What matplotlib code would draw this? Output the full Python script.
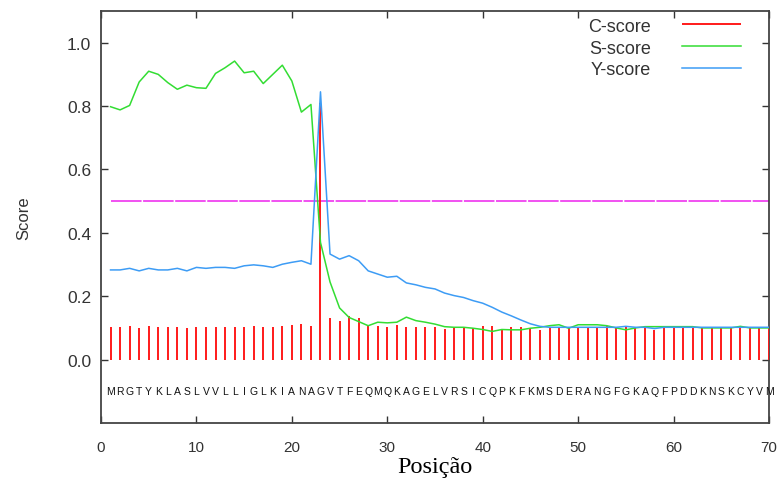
import matplotlib
matplotlib.use("Agg")
import matplotlib.pyplot as plt

plt.rcParams['font.family'] = ['Liberation Sans', 'DejaVu Sans']

positions = list(range(1, 71))
sequence = "MRGTYKLASLVVLLIGLKIANAGVTFEQMQKAGELVRSICQPKFKMSDERANGFGKAQFPDDKNSKCYVM"

c_score = [0.102, 0.102, 0.105, 0.099, 0.105, 0.102, 0.102, 0.102, 0.099, 0.102,
           0.102, 0.102, 0.102, 0.102, 0.102, 0.105, 0.102, 0.102, 0.105, 0.109,
           0.112, 0.105, 0.810, 0.131, 0.123, 0.137, 0.131, 0.105, 0.105, 0.102,
           0.109, 0.102, 0.102, 0.102, 0.102, 0.097, 0.099, 0.102, 0.099, 0.105,
           0.105, 0.097, 0.102, 0.102, 0.099, 0.095, 0.102, 0.099, 0.099, 0.102,
           0.102, 0.099, 0.105, 0.099, 0.107, 0.099, 0.102, 0.094, 0.102, 0.102,
           0.102, 0.102, 0.102, 0.102, 0.102, 0.102, 0.102, 0.102, 0.102, 0.102]

s_score = [0.798, 0.788, 0.802, 0.876, 0.910, 0.900, 0.874, 0.853, 0.866, 0.858,
           0.856, 0.903, 0.921, 0.942, 0.905, 0.910, 0.871, 0.900, 0.929, 0.879,
           0.781, 0.805, 0.370, 0.245, 0.163, 0.133, 0.120, 0.107, 0.118, 0.116,
           0.118, 0.134, 0.123, 0.118, 0.112, 0.104, 0.102, 0.102, 0.099, 0.095,
           0.089, 0.095, 0.094, 0.094, 0.099, 0.102, 0.107, 0.110, 0.099, 0.110,
           0.110, 0.110, 0.107, 0.100, 0.094, 0.100, 0.104, 0.104, 0.104, 0.104,
           0.104, 0.104, 0.100, 0.100, 0.100, 0.100, 0.105, 0.100, 0.100, 0.100]

y_score = [0.283, 0.283, 0.288, 0.280, 0.288, 0.283, 0.283, 0.288, 0.280, 0.291,
           0.288, 0.291, 0.291, 0.288, 0.296, 0.299, 0.296, 0.291, 0.301, 0.307,
           0.312, 0.301, 0.845, 0.333, 0.317, 0.328, 0.312, 0.280, 0.270, 0.260,
           0.263, 0.242, 0.236, 0.228, 0.223, 0.210, 0.202, 0.196, 0.186, 0.178,
           0.165, 0.150, 0.138, 0.125, 0.113, 0.105, 0.102, 0.102, 0.102, 0.102,
           0.102, 0.102, 0.102, 0.102, 0.105, 0.102, 0.102, 0.098, 0.102, 0.102,
           0.102, 0.102, 0.102, 0.102, 0.102, 0.102, 0.102, 0.102, 0.102, 0.102]

threshold = 0.5
x_ticks = [0, 10, 20, 30, 40, 50, 60, 70]
y_ticks = [0.0, 0.2, 0.4, 0.6, 0.8, 1.0]

fig = plt.figure(figsize=(7.78, 4.85), dpi=100)
ax = fig.add_axes([101/778, (485-424)/485, (769-101)/778, (424-12)/485])

ax.vlines(positions, 0, c_score, colors='#ff1a1a', linewidth=1.4, label='C-score', zorder=3)
ax.plot(positions, s_score, color='#33dd33', linewidth=1.1, label='S-score', zorder=4)
ax.plot(positions, y_score, color='#3d9cf5', linewidth=1.1, label='Y-score', zorder=5)
ax.hlines(threshold, positions[0], positions[-1], colors='#ee22ee', linewidth=1.1,
          linestyles=(0, (20, 1.0)), zorder=2)

for p, aa in zip(positions, sequence):
    ax.text(p, -0.1, aa, ha='center', va='center', fontsize=7.5, color='#111111')

ax.set_xlim(0, 70)
ax.set_ylim(-0.2, 1.1)
ax.set_xticks(x_ticks)
ax.set_yticks(y_ticks)
ax.set_yticklabels([f"{v:.1f}" for v in y_ticks])
ax.tick_params(direction='in', length=5, width=1, top=True, right=True,
               colors='#333333', labelcolor='#333333')
ax.tick_params(axis='x', labelsize=11, pad=12)
ax.tick_params(axis='y', labelsize=12.5, pad=7)
for s in ax.spines.values():
    s.set_color('#444444')
    s.set_linewidth(1.3)

ax.set_ylabel('Score', fontsize=12, color='#333333', labelpad=26)
ax.set_xlabel('Posição', fontsize=17.5, family=['Liberation Serif', 'DejaVu Serif'], labelpad=2)

leg = ax.legend(loc='upper right', bbox_to_anchor=(0.975, 1.01), frameon=False,
                markerfirst=False, fontsize=13, handlelength=3.3, handletextpad=1.7,
                labelspacing=0.27, borderaxespad=0.2)
for t in leg.get_texts():
    t.set_color('#333333')

fig.savefig('out.png', dpi=100)
